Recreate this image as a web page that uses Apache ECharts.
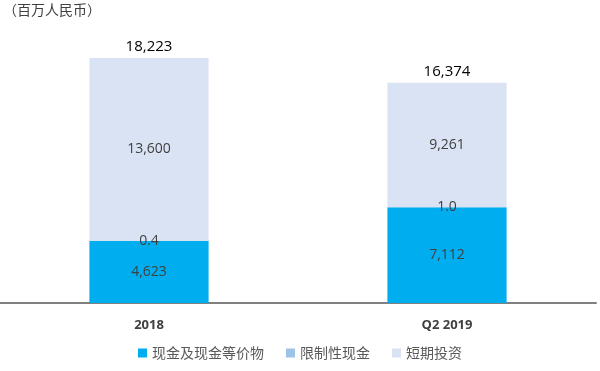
<!DOCTYPE html>
<html><head><meta charset="utf-8">
<script src="https://cdn.jsdelivr.net/npm/echarts@6/dist/echarts.min.js"></script>
<style>html,body{margin:0;padding:0;background:#fff}#c{width:600px;height:371px}</style>
</head><body><div id="c"></div>
<script>
const categories = ['2018', 'Q2 2019'];
const cashValues = [4623, 7112];
const restrictedValues = [0.4, 1.0];
const shortTermValues = [13600, 9261];
const totals = [18223, 16374];
const seriesNames = ['现金及现金等价物', '限制性现金', '短期投资'];

const fmt = v => v >= 100 ? v.toLocaleString('en-US') : v.toFixed(1);
const font = '"Open Sans","Noto Sans CJK SC",sans-serif';
const chart = echarts.init(document.getElementById('c'));
chart.setOption({
  animation: false,
  textStyle: { fontFamily: font },
  graphic: [{ type: 'text', left: 3, top: 3, style: { text: '（百万人民币）', font: '14px "Noto Sans CJK SC"', fill: '#404040' } }],
  legend: {
    bottom: 6, left: 'center', icon: 'rect', itemWidth: 9, itemHeight: 9, itemGap: 22,
    textStyle: { fontSize: 14, color: '#595959', fontFamily: '"Noto Sans CJK SC"' },
    data: seriesNames
  },
  grid: { left: 0, right: 4, top: 34, bottom: 68 },
  xAxis: {
    type: 'category', data: categories,
    axisLine: { lineStyle: { color: '#808080', width: 2 } },
    axisTick: { show: false },
    axisLabel: { fontSize: 13, fontWeight: 'bold', color: '#404040', margin: 16 }
  },
  yAxis: { type: 'value', min: 0, max: 20000, show: false, splitLine: { show: false } },
  series: [
    { name: seriesNames[0], type: 'bar', stack: 's', barWidth: '40%', data: cashValues,
      itemStyle: { color: '#00ADEF' },
      label: { show: true, position: 'inside', color: '#404040', fontSize: 14, formatter: p => fmt(p.value) } },
    { name: seriesNames[1], type: 'bar', stack: 's', data: restrictedValues,
      itemStyle: { color: '#9DC3E6' },
      label: { show: true, position: 'inside', color: '#404040', fontSize: 14, formatter: p => fmt(p.value) } },
    { name: seriesNames[2], type: 'bar', stack: 's', data: shortTermValues,
      itemStyle: { color: '#DAE3F3' },
      label: { show: true, position: 'inside', color: '#404040', fontSize: 14, formatter: p => fmt(p.value) } },
    { name: 'total', type: 'bar', stack: 's', data: totals.map(() => 0), silent: true,
      itemStyle: { color: 'transparent' },
      label: { show: true, position: 'top', distance: 4, color: '#000', fontSize: 15, formatter: p => fmt(totals[p.dataIndex]) } }
  ]
});
</script></body></html>
